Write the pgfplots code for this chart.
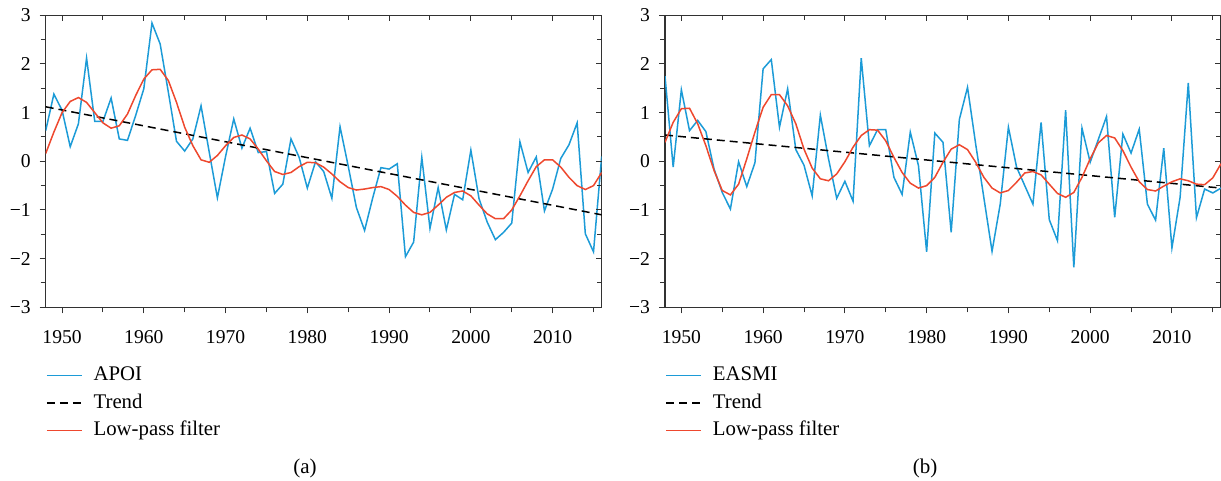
\documentclass[border=0pt]{standalone}
\usepackage{fontspec}
\setmainfont{Liberation Serif}
\usepackage{pgfplots}
\usepackage{pgfplotstable}
\pgfplotsset{compat=1.18}
\definecolor{idxblue}{RGB}{28,155,215}
\definecolor{lpred}{RGB}{238,72,46}
\definecolor{axgray}{RGB}{50,50,50}

% APOI: index and low-pass filtered series
\pgfplotstableread{
year val lp
1948 0.63 0.16
1949 1.38 0.60
1950 1.05 1.00
1951 0.30 1.23
1952 0.77 1.31
1953 2.12 1.21
1954 0.82 1.00
1955 0.82 0.79
1956 1.30 0.68
1957 0.46 0.73
1958 0.43 0.97
1959 0.94 1.35
1960 1.49 1.69
1961 2.84 1.88
1962 2.41 1.89
1963 1.42 1.66
1964 0.41 1.21
1965 0.21 0.70
1966 0.46 0.32
1967 1.14 0.03
1968 0.19 -0.02
1969 -0.75 0.12
1970 0.10 0.32
1971 0.87 0.49
1972 0.27 0.54
1973 0.68 0.46
1974 0.18 0.25
1975 0.20 0.01
1976 -0.66 -0.21
1977 -0.47 -0.27
1978 0.46 -0.23
1979 0.08 -0.11
1980 -0.55 -0.02
1981 -0.01 -0.03
1982 -0.21 -0.12
1983 -0.76 -0.26
1984 0.71 -0.42
1985 -0.10 -0.54
1986 -0.95 -0.59
1987 -1.42 -0.57
1988 -0.75 -0.54
1989 -0.13 -0.52
1990 -0.16 -0.58
1991 -0.05 -0.72
1992 -1.96 -0.90
1993 -1.66 -1.05
1994 0.08 -1.10
1995 -1.38 -1.05
1996 -0.54 -0.90
1997 -1.41 -0.74
1998 -0.68 -0.64
1999 -0.79 -0.61
2000 0.23 -0.71
2001 -0.77 -0.90
2002 -1.25 -1.08
2003 -1.61 -1.18
2004 -1.46 -1.18
2005 -1.27 -1.00
2006 0.40 -0.71
2007 -0.23 -0.40
2008 0.09 -0.11
2009 -1.02 0.03
2010 -0.57 0.03
2011 0.06 -0.12
2012 0.34 -0.33
2013 0.79 -0.50
2014 -1.49 -0.58
2015 -1.86 -0.50
2016 0.10 -0.23
}\apoi

% EASMI: index and low-pass filtered series
\pgfplotstableread{
year val lp
1948 1.75 0.39
1949 -0.12 0.80
1950 1.47 1.08
1951 0.63 1.09
1952 0.84 0.77
1953 0.61 0.32
1954 -0.16 -0.19
1955 -0.64 -0.60
1956 -0.98 -0.69
1957 -0.01 -0.47
1958 -0.52 0.05
1959 -0.03 0.60
1960 1.90 1.11
1961 2.09 1.37
1962 0.70 1.37
1963 1.49 1.14
1964 0.24 0.77
1965 -0.08 0.25
1966 -0.71 -0.14
1967 0.95 -0.36
1968 0.05 -0.40
1969 -0.76 -0.26
1970 -0.41 -0.01
1971 -0.82 0.29
1972 2.12 0.53
1973 0.32 0.65
1974 0.65 0.64
1975 0.65 0.42
1976 -0.33 0.08
1977 -0.68 -0.23
1978 0.60 -0.45
1979 -0.09 -0.55
1980 -1.86 -0.50
1981 0.58 -0.33
1982 0.39 -0.02
1983 -1.46 0.25
1984 0.86 0.34
1985 1.52 0.24
1986 0.35 -0.02
1987 -0.75 -0.33
1988 -1.85 -0.55
1989 -0.88 -0.65
1990 0.70 -0.60
1991 -0.12 -0.43
1992 -0.50 -0.24
1993 -0.88 -0.21
1994 0.80 -0.28
1995 -1.20 -0.47
1996 -1.63 -0.66
1997 1.05 -0.74
1998 -2.18 -0.64
1999 0.68 -0.33
2000 -0.02 0.05
2001 0.45 0.38
2002 0.92 0.53
2003 -1.15 0.48
2004 0.56 0.22
2005 0.17 -0.12
2006 0.66 -0.42
2007 -0.88 -0.58
2008 -1.21 -0.61
2009 0.27 -0.51
2010 -1.78 -0.42
2011 -0.74 -0.36
2012 1.61 -0.40
2013 -1.16 -0.47
2014 -0.57 -0.48
2015 -0.65 -0.34
2016 -0.55 -0.05
}\easmi

\pgfplotsset{
  panelbase/.style={
    scale only axis, width=278pt, height=146pt,
    xmin=1948, xmax=2016, ymin=-3, ymax=3,
    xtick={1950,1960,...,2010}, minor xtick={1955,1965,...,2015},
    ytick={-3,-2,...,3}, minor ytick={-2.5,-1.5,...,2.5},
    major tick length=3pt, minor tick length=2.5pt,
    tick style={axgray, line width=0.5pt},
    axis line style={axgray, line width=0.6pt},
  },
  panel/.style={
    panelbase,
    tick align=outside, xtick pos=left, ytick pos=left,
    xticklabels={1950,1960,1970,1980,1990,2000,2010},
    yticklabels={−3,−2,−1,0,1,2,3},
    tick label style={font=\fontsize{9.8}{11}\selectfont},
    xticklabel style={yshift=-4.8pt},
    yticklabel style={xshift=-1pt},
    legend style={at={(0,0)}, anchor=north west, yshift=-29.4pt,
      draw=none, fill=none, inner sep=0pt, row sep=4.75pt, column sep=5.5pt,
      font=\fontsize{10.4}{12}\selectfont,
      nodes={inner sep=0pt, text height=7pt, text depth=2pt}},
    legend cell align=left,
    legend image code/.code={\draw[##1] (0pt,0pt) -- (17.5pt,0pt);},
  },
  boxticks/.style={
    panelbase,
    tick align=inside, xtick pos=right, ytick pos=right,
    xticklabels={}, yticklabels={},
    axis line style={draw=none},
  },
  idx/.style={idxblue, line width=0.75pt},
  trend/.style={black, line width=0.75pt, dash pattern=on 4pt off 2.5pt},
  lowpass/.style={lpred, line width=0.75pt},
}

\begin{document}
\begin{tikzpicture}
\path[use as bounding box] (-22.85pt,-86.85pt) rectangle (587.65pt,153.65pt);

% (a) APOI
\begin{axis}[panel, at={(0pt,0pt)}, anchor=south west]
  \addplot[idx] table[x=year, y=val] {\apoi};
  \addplot[trend] coordinates {(1948,1.12) (2016,-1.10)};
  \addplot[lowpass] table[x=year, y=lp] {\apoi};
  \legend{APOI, Trend, Low-pass filter}
\end{axis}
\begin{axis}[boxticks, at={(0pt,0pt)}, anchor=south west]
\end{axis}

% (b) EASMI
\begin{axis}[panel, at={(309.65pt,0pt)}, anchor=south west]
  \addplot[idx] table[x=year, y=val] {\easmi};
  \addplot[trend] coordinates {(1948,0.54) (2016,-0.55)};
  \addplot[lowpass] table[x=year, y=lp] {\easmi};
  \legend{EASMI, Trend, Low-pass filter}
\end{axis}
\begin{axis}[boxticks, at={(309.65pt,0pt)}, anchor=south west]
\end{axis}

\node[font=\fontsize{10.5}{12}\selectfont, inner sep=0pt] at (129.65pt,-80.35pt) {(a)};
\node[font=\fontsize{10.5}{12}\selectfont, inner sep=0pt] at (439.65pt,-80.35pt) {(b)};
\end{tikzpicture}
\end{document}
